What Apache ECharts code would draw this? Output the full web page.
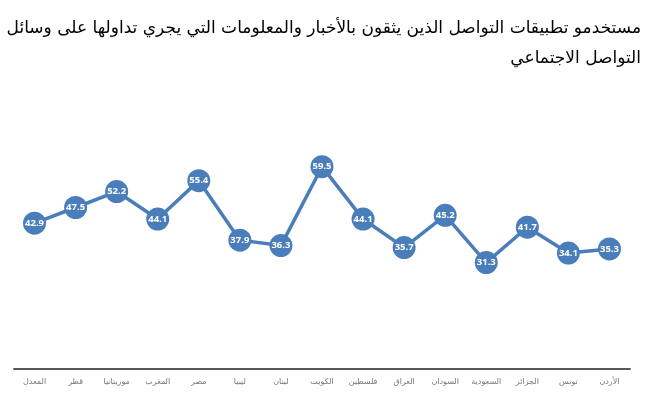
<!DOCTYPE html>
<html>
<head>
<meta charset="utf-8">
<script src="https://cdn.jsdelivr.net/npm/echarts@6/dist/echarts.min.js"></script>
<style>
  html, body { margin: 0; padding: 0; background: #fff; }
  #chart { width: 670px; height: 420px; }
</style>
</head>
<body>
<div id="chart"></div>
<script>
const countries = ['المعدل', 'قطر', 'موريتانيا', 'المغرب', 'مصر', 'ليبيا', 'لبنان', 'الكويت', 'فلسطين', 'العراق', 'السودان', 'السعودية', 'الجزائر', 'تونس', 'الأردن']
const shares = [42.9, 47.5, 52.2, 44.1, 55.4, 37.9, 36.3, 59.5, 44.1, 35.7, 45.2, 31.3, 41.7, 34.1, 35.3]
const titleLines = [
    'مستخدمو تطبيقات التواصل الذين يثقون بالأخبار والمعلومات التي يجري تداولها على وسائل',
    'التواصل الاجتماعي',
]

const blue = '#4a7ebb'
const chart = echarts.init(document.getElementById('chart'))

const titleStyle = {
    fontFamily: 'DejaVu Sans',
    fontSize: 17,
    fontWeight: 'normal',
    color: '#000',
}

chart.setOption({
    animation: false,
    title: titleLines.map((t, i) => ({
        text: t,
        right: 29,
        top: 20 + i * 30,
        padding: 0,
        textStyle: titleStyle,
    })),
    grid: { left: 14, right: 40, top: 131, bottom: 51 },
    xAxis: {
        type: 'category',
        data: countries,
        axisLine: { lineStyle: { color: '#595959', width: 2 } },
        axisTick: { show: false },
        axisLabel: { color: '#767676', fontSize: 8, fontFamily: 'DejaVu Sans', margin: 9, interval: 0 },
    },
    yAxis: {
        type: 'value',
        min: 0,
        max: 70,
        show: false,
        splitLine: { show: false },
    },
    series: [{
        type: 'line',
        data: shares,
        symbol: 'circle',
        symbolSize: 23,
        lineStyle: { color: blue, width: 3.5 },
        itemStyle: { color: blue },
        label: {
            show: true,
            position: 'inside',
            color: '#fff',
            fontSize: 9.5,
            fontWeight: 'bold',
            fontFamily: 'Open Sans',
        },
    }],
})
</script>
</body>
</html>
